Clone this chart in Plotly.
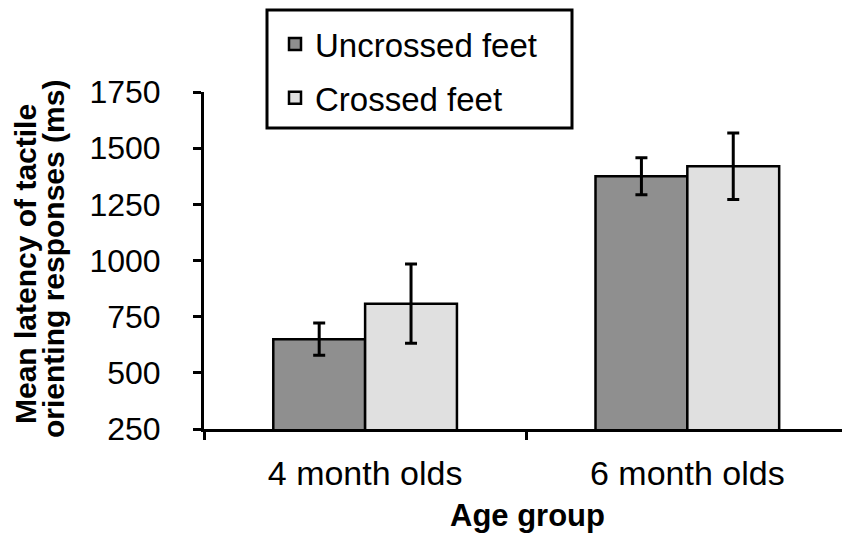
import plotly.graph_objects as go

# ---- data ----
categories = ["4 month olds", "6 month olds"]
uncrossed_mean = [650, 1375]
uncrossed_err = [72, 82]
crossed_mean = [808, 1420]
crossed_err = [176, 148]
series_names = ["Uncrossed feet", "Crossed feet"]
y_ticks = [250, 500, 750, 1000, 1250, 1500, 1750]
y_title_lines = ["Mean latency of tactile", "orienting responses (ms)"]
x_title = "Age group"

# ---- layout geometry (pixels) ----
W, H = 842, 536
L, R, T, B = 204, 0, 92, 107
PW, PH = W - L - R, H - T - B

def px_x(px):
    return (px - L) / PW

def px_y(py):
    return (H - B - py) / PH

FONT = "Liberation Sans, Arial, Helvetica, sans-serif"

fig = go.Figure()
fig.add_trace(go.Bar(
    x=categories, y=uncrossed_mean, name=series_names[0], legendgroup="a",
    marker=dict(color="#8f8f8f", line=dict(color="black", width=2.5)),
    error_y=dict(type="data", array=uncrossed_err, color="black", thickness=3, width=6),
))
fig.add_trace(go.Bar(
    x=categories, y=crossed_mean, name=series_names[1], legendgroup="b",
    marker=dict(color="#e0e0e0", line=dict(color="black", width=2.5)),
    error_y=dict(type="data", array=crossed_err, color="black", thickness=3, width=6),
))

fig.update_layout(
    width=W, height=H,
    margin=dict(l=L, r=R, t=T, b=B, pad=0),
    paper_bgcolor="white", plot_bgcolor="white",
    barmode="group", bargap=0.43, bargroupgap=0,
    font=dict(family=FONT, color="black", size=33),
    showlegend=True,
    legend=dict(
        x=px_x(275), y=px_y(16), xanchor="left", yanchor="top",
        bgcolor="rgba(0,0,0,0)", borderwidth=0,
        font=dict(size=33, family=FONT, color="black"),
        traceorder="grouped", tracegroupgap=8,
    ),
    xaxis=dict(
        range=[-0.5, 1.48], showline=True, linecolor="black", linewidth=3,
        ticks="outside", tickson="boundaries", ticklen=8, tickwidth=3, tickcolor="black",
        showgrid=False, zeroline=False, ticklabelstandoff=12,
        tickfont=dict(size=34, family=FONT, color="black"),
    ),
    yaxis=dict(
        range=[250, 1750], tickvals=y_ticks, showline=True, linecolor="black", linewidth=3,
        ticks="outside", ticklen=8, tickwidth=3, tickcolor="black",
        showgrid=False, zeroline=False, ticklabelstandoff=26,
        tickfont=dict(size=32, family=FONT, color="black"),
    ),
    shapes=[dict(
        type="rect", xref="paper", yref="paper",
        x0=px_x(267), x1=px_x(572), y0=px_y(128), y1=px_y(10),
        line=dict(color="black", width=3), fillcolor="white", layer="below",
    )],
)

fig.add_annotation(
    text=f"<b>{y_title_lines[0]}</b>", xref="paper", yref="paper",
    x=px_x(25), y=px_y(264), textangle=-90, showarrow=False,
    xanchor="center", yanchor="middle", font=dict(size=30, family=FONT, color="black"),
)
fig.add_annotation(
    text=f"<b>{y_title_lines[1]}</b>", xref="paper", yref="paper",
    x=px_x(53), y=px_y(259), textangle=-90, showarrow=False,
    xanchor="center", yanchor="middle", font=dict(size=30, family=FONT, color="black"),
)
fig.add_annotation(
    text=f"<b>{x_title}</b>", xref="paper", yref="paper",
    x=px_x(527), y=px_y(515), showarrow=False,
    xanchor="center", yanchor="middle", font=dict(size=31, family=FONT, color="black"),
)

fig.write_html("out.html", config={"displayModeBar": False},
               post_script="document.body.style.margin='0px';")
